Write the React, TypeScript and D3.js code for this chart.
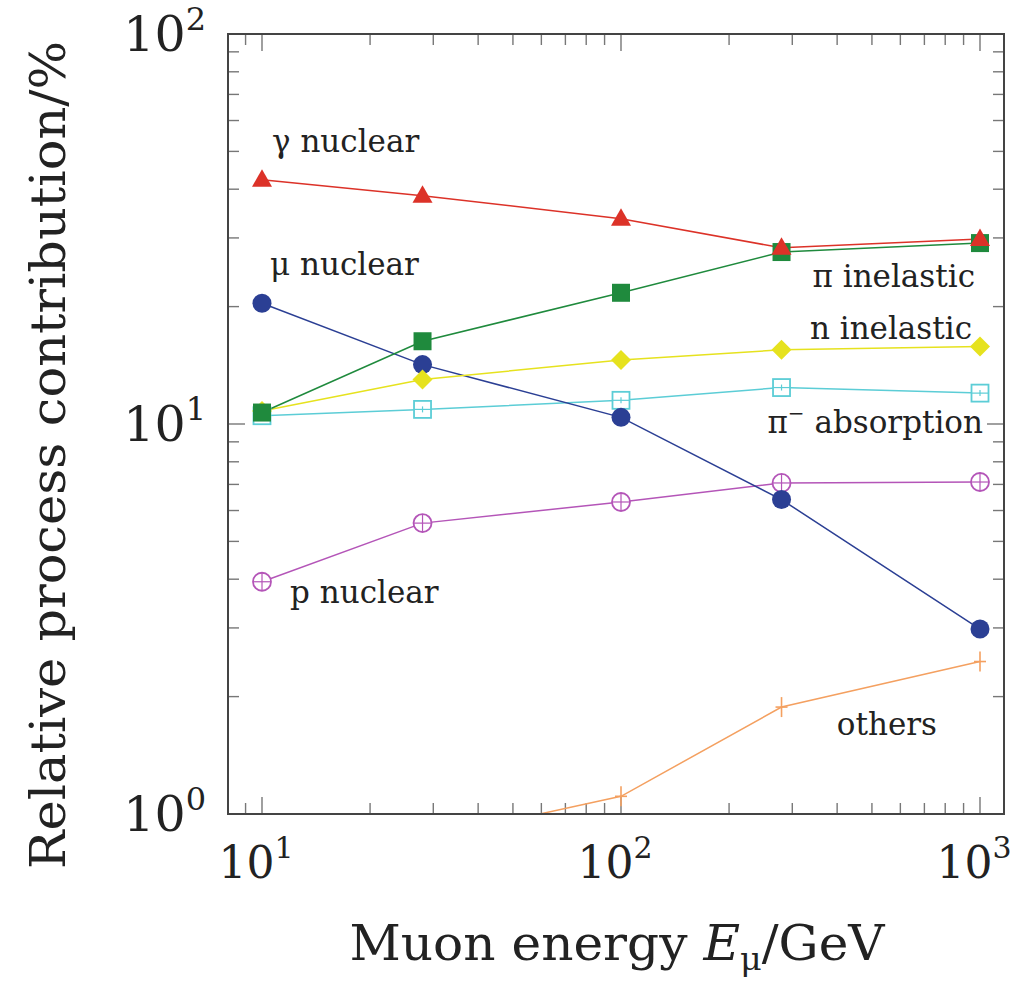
import React from "react";
import * as d3 from "d3";

// Muon energies (GeV) at which each process share was evaluated
const energies = [10, 28, 100, 280, 1000];

// Relative contribution of each process, in percent
const gammaNuclear = [42.3, 38.5, 33.6, 28.3, 29.8];
const piInelastic = [10.7, 16.3, 21.7, 27.6, 29.1];
const muNuclear = [20.4, 14.2, 10.4, 6.4, 2.98];
const nInelastic = [10.8, 13.0, 14.6, 15.5, 15.8];
const piAbsorption = [10.5, 10.9, 11.5, 12.4, 12.0];
const pNuclear = [3.94, 5.57, 6.31, 7.06, 7.1];
const others = [0.6, 0.86, 1.11, 1.88, 2.46];

const xMajor = [10, 100, 1000];
const yMajor = [1, 10, 100];
const xTickExp = ["1", "2", "3"];
const yTickExp = ["0", "1", "2"];

type Marker = "triangle" | "square" | "circle" | "diamond" | "openSquare" | "openCircle" | "plus";

const series: { name: string; values: number[]; color: string; marker: Marker }[] = [
  { name: "others", values: others, color: "#f4a060", marker: "plus" },
  { name: "p nuclear", values: pNuclear, color: "#b455b8", marker: "openCircle" },
  { name: "pi- absorption", values: piAbsorption, color: "#5ccdd6", marker: "openSquare" },
  { name: "mu nuclear", values: muNuclear, color: "#2b3f94", marker: "circle" },
  { name: "n inelastic", values: nInelastic, color: "#e6e21e", marker: "diamond" },
  { name: "pi inelastic", values: piInelastic, color: "#1f8a3d", marker: "square" },
  { name: "gamma nuclear", values: gammaNuclear, color: "#dc3228", marker: "triangle" },
];

const W = 1020;
const H = 992;
const left = 228;
const right = 1004;
const top = 34;
const bottom = 814;

const x = d3.scaleLog().domain([10, 1000]).range([262, 980]);
const y = d3.scaleLog().domain([1, 100]).range([bottom, top]);

const xDomainLo = x.invert(left);
const xDomainHi = x.invert(right);

function minorTicks(lo: number, hi: number, majors: number[]) {
  const out: number[] = [];
  for (let e = -1; e <= 4; e++) {
    for (let m = 2; m <= 9; m++) {
      const v = m * Math.pow(10, e);
      if (v > lo && v < hi && !majors.includes(v)) out.push(v);
    }
  }
  return out;
}

const xMinor = minorTicks(xDomainLo, xDomainHi, xMajor);
const yMinor = minorTicks(1, 100, yMajor);

function MarkerShape({ m, cx, cy, color }: { m: Marker; cx: number; cy: number; color: string }) {
  switch (m) {
    case "triangle": {
      const s = 10;
      const pts = [
        [cx, cy - s * 1.05],
        [cx - s, cy + s * 0.7],
        [cx + s, cy + s * 0.7],
      ];
      return <polygon points={pts.map((p) => p.join(",")).join(" ")} fill={color} />;
    }
    case "square":
      return <rect x={cx - 9} y={cy - 9} width={18} height={18} fill={color} />;
    case "circle":
      return <circle cx={cx} cy={cy} r={9.5} fill={color} />;
    case "diamond": {
      const s = 10;
      return (
        <polygon
          points={`${cx},${cy - s} ${cx + s},${cy} ${cx},${cy + s} ${cx - s},${cy}`}
          fill={color}
        />
      );
    }
    case "openSquare":
      return (
        <g stroke={color} strokeWidth={1.8} fill="white">
          <rect x={cx - 8.5} y={cy - 8.5} width={17} height={17} />
          <line x1={cx - 8.5} x2={cx + 8.5} y1={cy} y2={cy} strokeWidth={1.2} />
          <line x1={cx} x2={cx} y1={cy - 3} y2={cy + 3} strokeWidth={1.2} />
        </g>
      );
    case "openCircle":
      return (
        <g stroke={color} strokeWidth={1.8} fill="white">
          <circle cx={cx} cy={cy} r={9} />
          <line x1={cx - 9} x2={cx + 9} y1={cy} y2={cy} strokeWidth={1.2} />
          <line x1={cx} x2={cx} y1={cy - 9} y2={cy + 9} strokeWidth={1.2} />
        </g>
      );
    case "plus":
      return (
        <g stroke={color} strokeWidth={1.6}>
          <line x1={cx} x2={cx} y1={cy - 10} y2={cy + 10} />
          <line x1={cx - 6} x2={cx + 6} y1={cy} y2={cy} />
        </g>
      );
  }
}

const serif = "'DejaVu Serif', 'Liberation Serif', serif";
const textColor = "#222";

export default function App() {
  const line = d3
    .line<number>()
    .x((_, i) => x(energies[i]))
    .y((d) => y(d));

  const majLen = 17;
  const minLen = 11;

  return (
    <svg
      width={W}
      height={H}
      viewBox={`0 0 ${W} ${H}`}
      style={{ position: "absolute", left: 0, top: 0, background: "white" }}
      fontFamily={serif}
    >
      <defs>
        <clipPath id="plotArea">
          <rect x={left} y={top} width={right - left} height={bottom - top} />
        </clipPath>
      </defs>
      <rect x={0} y={0} width={W} height={H} fill="white" />

      {/* ticks on all four sides, pointing inward */}
      <g stroke="#777" strokeWidth={1.4}>
        {xMajor.map((v) => (
          <g key={`xM${v}`}>
            <line x1={x(v)} x2={x(v)} y1={bottom} y2={bottom - majLen} />
            <line x1={x(v)} x2={x(v)} y1={top} y2={top + majLen} />
          </g>
        ))}
        {xMinor.map((v) => (
          <g key={`xm${v}`}>
            <line x1={x(v)} x2={x(v)} y1={bottom} y2={bottom - minLen} />
            <line x1={x(v)} x2={x(v)} y1={top} y2={top + minLen} />
          </g>
        ))}
        {yMajor.map((v) => (
          <g key={`yM${v}`}>
            <line x1={left} x2={left + majLen} y1={y(v)} y2={y(v)} />
            <line x1={right} x2={right - majLen} y1={y(v)} y2={y(v)} />
          </g>
        ))}
        {yMinor.map((v) => (
          <g key={`ym${v}`}>
            <line x1={left} x2={left + minLen} y1={y(v)} y2={y(v)} />
            <line x1={right} x2={right - minLen} y1={y(v)} y2={y(v)} />
          </g>
        ))}
      </g>

      {/* series lines and markers */}
      <g clipPath="url(#plotArea)">
        {series.map((s) => (
          <path
            key={`l-${s.name}`}
            d={line(s.values) || ""}
            fill="none"
            stroke={s.color}
            strokeWidth={1.5}
          />
        ))}
        {series.map((s) => (
          <g key={`m-${s.name}`}>
            {s.values.map((v, i) => (
              <MarkerShape key={i} m={s.marker} cx={x(energies[i])} cy={y(v)} color={s.color} />
            ))}
          </g>
        ))}
      </g>

      {/* frame */}
      <rect
        x={left}
        y={top}
        width={right - left}
        height={bottom - top}
        fill="none"
        stroke="#444"
        strokeWidth={2}
      />

      {/* x tick labels */}
      {xMajor.map((v, i) => (
        <text key={`xl${v}`} x={x(v) - 6} y={878} fontSize={44} textAnchor="middle" fill={textColor}>
          10
          <tspan dy={-20} fontSize={30}>
            {xTickExp[i]}
          </tspan>
        </text>
      ))}

      {/* y tick labels */}
      {yMajor.map((v, i) => (
        <text key={`yl${v}`} x={206} y={y(v) + 17} fontSize={49} textAnchor="end" fill={textColor}>
          10
          <tspan dy={-21} fontSize={32}>
            {yTickExp[i]}
          </tspan>
        </text>
      ))}

      {/* axis titles */}
      <text
        x={617}
        y={960}
        fontSize={48}
        textAnchor="middle"
        fill={textColor}
        textLength={535}
        lengthAdjust="spacingAndGlyphs"
      >
        Muon energy <tspan fontStyle="italic">E</tspan>
        <tspan dy={10} fontSize={32}>
          μ
        </tspan>
        <tspan dy={-10}>/GeV</tspan>
      </text>
      <text
        transform={`translate(65, 455) rotate(-90)`}
        fontSize={48}
        textAnchor="middle"
        fill={textColor}
        textLength={828}
        lengthAdjust="spacingAndGlyphs"
      >
        Relative process contribution/%
      </text>

      {/* process labels */}
      <g fontSize={31} fill={textColor}>
        <text x={272} y={152}>γ nuclear</text>
        <text x={270} y={275}>μ nuclear</text>
        <text x={975} y={287} textAnchor="end">
          π inelastic
        </text>
        <text x={972} y={339} textAnchor="end">
          n inelastic
        </text>
        <text x={983} y={433} textAnchor="end">
          π
          <tspan dy={-13} fontSize={20}>
            −
          </tspan>
          <tspan dy={13}> absorption</tspan>
        </text>
        <text x={290} y={603}>p nuclear</text>
        <text x={937} y={735} textAnchor="end">
          others
        </text>
      </g>
    </svg>
  );
}
